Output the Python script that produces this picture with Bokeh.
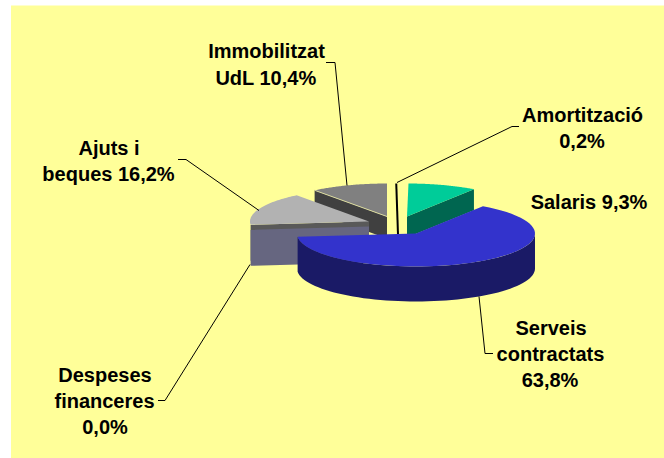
import math
from bokeh.plotting import figure
from bokeh.models import Range1d, ColumnDataSource
from bokeh.core.properties import value
from bokeh.embed import file_html
from bokeh.resources import INLINE

# ---- data
categories = ["Amortització", "Salaris", "Serveis contractats", "Despeses financeres", "Ajuts i beques", "Immobilitzat UdL"]
shares = [0.2, 9.3, 63.8, 0.0, 16.2, 10.4]
label_lines = [
    ["Amortització", "0,2%"],
    ["Salaris 9,3%"],
    ["Serveis", "contractats", "63,8%"],
    ["Despeses", "financeres", "0,0%"],
    ["Ajuts i", "beques 16,2%"],
    ["Immobilitzat", "UdL 10,4%"],
]

# ---- layout / style
W, H = 664, 458
OX, OY = 1.5, 1
RX, RY = 119, 33
apex = {"Amortització": (396.5, 217), "Salaris": (408, 217), "Serveis contractats": (417, 234),
        "Despeses financeres": (370, 227), "Ajuts i beques": (370, 222), "Immobilitzat UdL": (388, 217)}
depth = {"Amortització": 18, "Salaris": 21, "Serveis contractats": 35,
         "Despeses financeres": 36, "Ajuts i beques": 36, "Immobilitzat UdL": 22}
top_col = {"Salaris": "#00CC99", "Serveis contractats": "#3333CC", "Ajuts i beques": "#B2B2B2", "Immobilitzat UdL": "#808080"}
wall_col = {"Salaris": "#006650", "Serveis contractats": "#1A1A66", "Despeses financeres": "#666680",
            "Ajuts i beques": "#595959", "Immobilitzat UdL": "#404040"}
label_pos = [[(583.5, 115), (583, 141)], [(590, 202)], [(552, 328), (551.5, 354), (551, 380)],
             [(106, 375), (105.5, 401), (106, 427)], [(110, 148), (109.5, 174)], [(267.5, 51), (267, 78)]]
leaders = [[(398, 183), (513, 127), (520, 127)],
           [(480, 297), (486, 354), (494, 354)],
           [(251, 265), (166, 401), (159, 401)],
           [(260, 211), (187, 160), (179, 160)],
           [(348, 186), (336, 63), (327, 63)]]

# ---- slice angles from the values
spans = {}
a = 0.0
total = sum(shares)
for c, s in zip(categories, shares):
    spans[c] = (a, a + s / total * 360)
    a += s / total * 360

def pt(cat, ang):
    cx, cy = apex[cat]
    r = math.radians(ang)
    return cx + RX * math.sin(r), cy - RY * math.cos(r)

def arc(cat, a0, a1, n=60):
    return [pt(cat, a0 + (a1 - a0) * i / n) for i in range(n + 1)]

p = figure(width=W, height=H, output_backend="svg", toolbar_location=None, min_border=0,
           x_range=Range1d(OX, OX + W), y_range=Range1d(OY + H, OY), background_fill_color="white",
           border_fill_color="white", outline_line_color=None)
p.axis.visible = False
p.grid.visible = False
p.xaxis.visible = False
p.yaxis.visible = False

p.quad(left=[12], right=[OX + W], top=[6], bottom=[OY + H], fill_color="#FFFF99", line_color=None)

def poly(pts, col):
    p.patch([q[0] for q in pts], [q[1] for q in pts], fill_color=col, line_color=None)

def top(cat):
    a0, a1 = spans[cat]
    poly([apex[cat]] + arc(cat, a0, a1), top_col[cat])

def edge_wall(cat, ang):
    x0, y0 = apex[cat]
    x1, y1 = pt(cat, ang)
    d = depth[cat]
    poly([(x0, y0), (x1, y1), (x1, y1 + d), (x0, y0 + d)], wall_col[cat])

# Salaris
c = "Salaris"
edge_wall(c, spans[c][1])
top(c)

# Immobilitzat
c = "Immobilitzat UdL"
edge_wall(c, spans[c][0])
top(c)
x1, y1 = pt(c, spans[c][0])
p.line([x1, apex[c][0]], [y1, apex[c][1]], line_color="#D9D9A0", line_width=1)

# Amortització: almost no width, drawn as a dark sliver
c = "Amortització"
tx, ty = pt(c, sum(spans[c]) / 2)
p.line([tx, apex[c][0] + 2.5], [ty, apex[c][1] + depth[c]], line_color="black", line_width=2)

# Ajuts and the empty Despeses slice
c = "Ajuts i beques"
edge_wall(c, spans[c][0])
c2 = "Despeses financeres"
edge_wall(c2, spans[c2][0])
top(c)

# Serveis
c = "Serveis contractats"
a0, a1 = spans[c]
front = arc(c, 90, a1)
poly(front + [(x, y + depth[c]) for x, y in reversed(front)], wall_col[c])
top(c)

# leaders
for l in leaders:
    p.line([q[0] for q in l], [q[1] for q in l], line_color="black", line_width=1)

# labels
xs, ys, ts = [], [], []
for lines, poss in zip(label_lines, label_pos):
    for t, (x, y) in zip(lines, poss):
        xs.append(x); ys.append(y); ts.append(t)
p.text(x="x", y="y", text="t", source=ColumnDataSource(dict(x=xs, y=ys, t=ts)),
       text_font=value("Liberation Sans"), text_font_style="bold", text_font_size="20px",
       text_align="center", text_baseline="middle", text_color="black")

open("out.html", "w").write(file_html(p, INLINE))
